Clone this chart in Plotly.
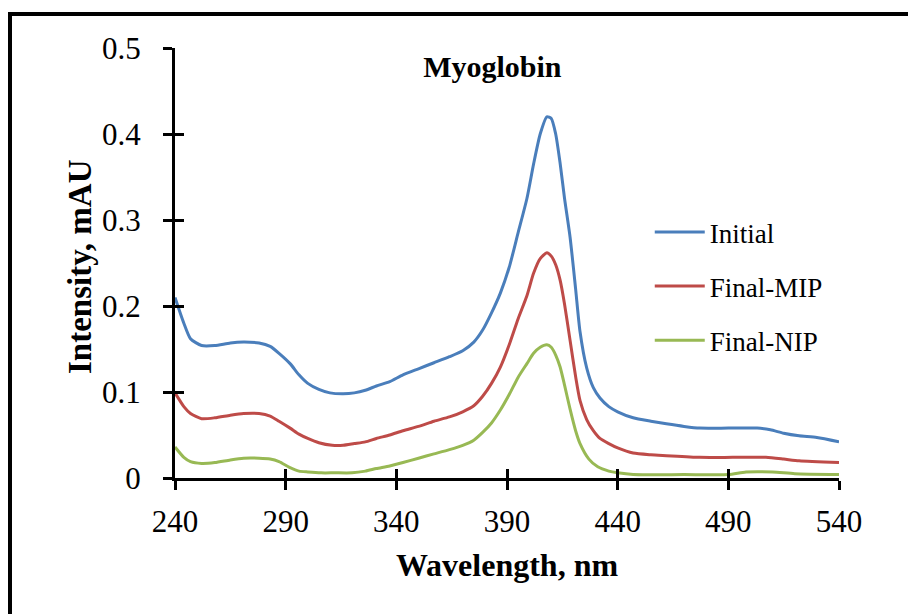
import plotly.graph_objects as go

wl_initial = [240, 244, 247, 252, 258, 265, 271, 278, 283, 287, 292, 296, 300, 305, 310, 316, 321, 326, 331, 337,
              343, 350, 357, 364, 370, 375, 379, 383, 387, 391, 395, 399, 402, 405, 408, 410, 412, 414, 416, 418.5,
              421, 423, 426, 429, 432, 436, 440, 447, 455, 462, 470, 477, 490, 503, 509, 515, 522, 530, 540]
initial = [0.21, 0.18, 0.162, 0.154, 0.154, 0.157, 0.158, 0.157, 0.153, 0.145, 0.133, 0.12, 0.11, 0.103, 0.099,
           0.098, 0.099, 0.102, 0.107, 0.112, 0.12, 0.127, 0.134, 0.141, 0.148, 0.158, 0.172, 0.192, 0.215, 0.245,
           0.285, 0.325, 0.365, 0.400, 0.420, 0.418, 0.400, 0.366, 0.325, 0.28, 0.22, 0.17, 0.128, 0.105, 0.093,
           0.083, 0.077, 0.07, 0.066, 0.063, 0.06, 0.058, 0.058, 0.058, 0.056, 0.052, 0.049, 0.047, 0.042]

wl_mip = [240, 244, 247, 252, 258, 265, 271, 278, 283, 287, 292, 296, 300, 305, 311, 316, 321, 326, 331, 337,
          343, 350, 357, 364, 370, 375, 379, 383, 387, 391, 395, 399, 402, 405, 408, 410, 412, 414, 416, 418.5,
          421, 423, 426, 429, 432, 436, 440, 447, 455, 462, 477, 492, 507, 515, 522, 540]
final_mip = [0.099, 0.083, 0.075, 0.069, 0.07, 0.073, 0.075, 0.075, 0.072, 0.066, 0.058, 0.051, 0.046, 0.041,
             0.038, 0.038, 0.04, 0.042, 0.046, 0.05, 0.055, 0.06, 0.066, 0.071, 0.077, 0.084, 0.095, 0.11, 0.129,
             0.155, 0.185, 0.212, 0.238, 0.255, 0.262, 0.258, 0.248, 0.23, 0.202, 0.16, 0.118, 0.09, 0.068, 0.055,
             0.046, 0.04, 0.035, 0.029, 0.027, 0.026, 0.024, 0.024, 0.024, 0.022, 0.02, 0.018]

wl_nip = [240, 244, 247, 252, 258, 265, 271, 278, 283, 287, 292, 296, 300, 306, 312, 320, 326, 331, 337, 343,
          350, 357, 364, 370, 375, 379, 383, 387, 391, 395, 399, 402, 405, 408, 410, 412, 414, 416, 418.5, 421,
          423, 427, 431, 436, 440, 447, 470, 490, 498, 510, 520, 540]
final_nip = [0.036, 0.024, 0.019, 0.017, 0.018, 0.021, 0.023, 0.023, 0.022, 0.019, 0.012, 0.008, 0.007, 0.006,
             0.006, 0.006, 0.008, 0.011, 0.014, 0.018, 0.023, 0.028, 0.033, 0.038, 0.044, 0.053, 0.064, 0.079,
             0.097, 0.117, 0.133, 0.145, 0.152, 0.155, 0.152, 0.143, 0.129, 0.108, 0.08, 0.055, 0.04, 0.022,
             0.013, 0.008, 0.006, 0.004, 0.004, 0.004, 0.007, 0.007, 0.005, 0.004]

x_ticks = [240, 290, 340, 390, 440, 490, 540]
y_ticks = [0, 0.1, 0.2, 0.3, 0.4, 0.5]
y_ticktext = ["0", "0.1", "0.2", "0.3", "0.4", "0.5"]

FONT = "Liberation Serif, Times New Roman, serif"

fig = go.Figure()
series = [("Initial", wl_initial, initial, "#4A7EBB"),
          ("Final-MIP", wl_mip, final_mip, "#BE4B48"),
          ("Final-NIP", wl_nip, final_nip, "#98B954")]
for name, xs, ys, col in series:
    fig.add_trace(go.Scatter(x=xs, y=ys, mode="lines", name=name, legendgroup=name,
                             line=dict(color=col, width=3, shape="spline", smoothing=0.6)))

# empty trace so the overlay axes (inner half of the crossing ticks) get drawn
fig.add_trace(go.Scatter(x=[None], y=[None], xaxis="x2", yaxis="y2", showlegend=False,
                         hoverinfo="skip", mode="lines"))

axis_common = dict(showgrid=False, zeroline=False, showline=True, linecolor="black", linewidth=3,
                   tickcolor="black", tickwidth=3, ticklen=9)

fig.update_layout(
    width=908, height=614,
    margin=dict(l=175, r=69, t=48, b=136),
    paper_bgcolor="white", plot_bgcolor="white",
    font=dict(family=FONT, color="black", size=31),
    showlegend=True,
    legend=dict(x=0.715, y=0.628, xanchor="left", yanchor="top", font=dict(size=27, family=FONT),
                tracegroupgap=16, bgcolor="rgba(0,0,0,0)", itemwidth=50),
    title=dict(text="<b>Myoglobin</b>", x=0.478, xref="paper", xanchor="center",
               y=1 - 66 / 614, yanchor="middle", font=dict(size=30, family=FONT)),
    xaxis=dict(range=[240, 540], tickvals=x_ticks, ticks="outside", ticklabelstandoff=5,
               tickfont=dict(size=31),
               title=dict(text="<b>Wavelength, nm</b>", font=dict(size=32), standoff=16),
               **axis_common),
    yaxis=dict(range=[0, 0.5], tickvals=y_ticks, ticktext=y_ticktext, tickfont=dict(size=31),
               ticks="outside", ticklabelstandoff=16, **axis_common),
    xaxis2=dict(overlaying="x", matches="x", range=[240, 540], tickvals=x_ticks, ticks="inside",
                showticklabels=False, side="bottom", anchor="y2", **axis_common),
    yaxis2=dict(overlaying="y", matches="y", range=[0, 0.5], tickvals=y_ticks, ticks="inside",
                showticklabels=False, side="left", anchor="x2", **axis_common),
)

fig.add_annotation(text="<b>Intensity, mAU</b>", xref="paper", yref="paper",
                   x=(80 - 175) / 664, y=(478 - 267) / 430, textangle=-90, showarrow=False,
                   font=dict(size=33, family=FONT), xanchor="center", yanchor="middle")

fig.add_shape(type="rect", xref="paper", yref="paper",
              x0=(10 - 175) / 664, x1=(930 - 175) / 664, y0=(478 - 640) / 430, y1=(478 - 14) / 430,
              line=dict(color="black", width=4), fillcolor="rgba(0,0,0,0)", layer="below")

fig.write_html("out.html")
